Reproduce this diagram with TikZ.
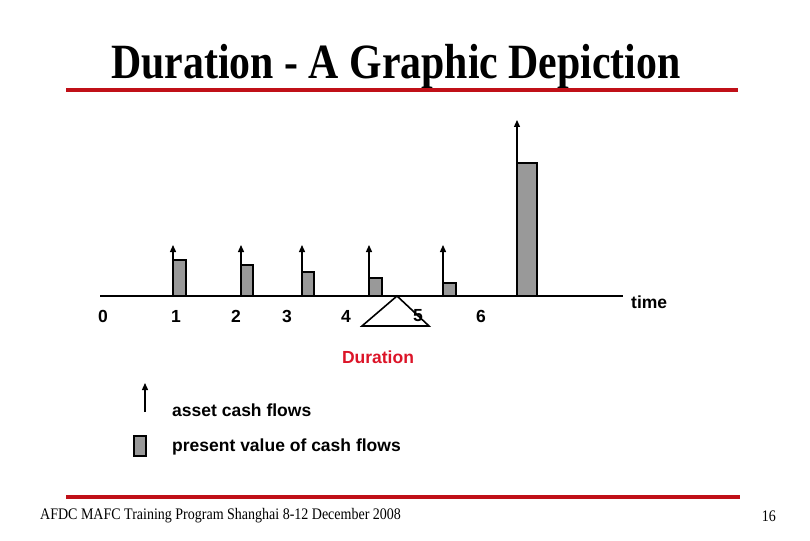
\documentclass[tikz,border=0pt]{standalone}
\usepackage{fontspec}
\setmainfont{Liberation Serif}
\newfontfamily\arial{Liberation Sans}
\definecolor{slidered}{RGB}{192,16,24}
\definecolor{durred}{RGB}{220,20,40}
\usetikzlibrary{arrows.meta}
\tikzset{
  lbl/.style={font=\arial\bfseries\fontsize{17.5}{19}\selectfont, inner sep=0pt},
  cf/.style={-{Triangle[length=7pt,width=6pt]}, line width=1.3pt},
  pv/.style={draw=black, line width=1.8pt, fill=black!40},
  rule/.style={slidered, line width=4pt},
}
\begin{document}
\begin{tikzpicture}[x=1pt,y=-1pt]
\useasboundingbox (0,0) rectangle (810,540);
% title
\node[inner sep=0pt] (title) at (396,67) {\scalebox{0.95}[1.12]{\bfseries\fontsize{44}{44}\selectfont Duration - A Graphic Depiction}};
\coordinate (tl) at (66,90); \coordinate (tr) at (738,90);
\draw[rule] (tl) -- (tr);
% axis
\coordinate (a0) at (100,296); \coordinate (a1) at (623,296);
\draw[line width=1.8pt] (a0) -- (a1);
% bars: x, width, top, arrow tip
\foreach \n/\x/\w/\t/\h in {1/173/13/260/245, 2/241/12/265/245, 3/302/12/272/245, 4/369/13/278/245, 5/443/13/283/245, 6/517/20/163/120}{
  \draw[pv] (\x,296) rectangle ++(\w,\t-296);
  \coordinate (b\n) at (\x,296);
  \coordinate (h\n) at (\x,\h);
  \draw[cf] (b\n) -- (h\n);
}
% labels
\node[lbl] (l0) at (103,316) {0};
\node[lbl] (l1) at (176,316) {1};
\node[lbl] (l2) at (236,316) {2};
\node[lbl] (l3) at (287,316) {3};
\node[lbl] (l4) at (346,316) {4};
\node[lbl] (l5) at (418,316) {5};
\node[lbl] (l6) at (481,316) {6};
\node[lbl, anchor=west] (time) at (631,302) {time};
% fulcrum
\coordinate (fa) at (397,296); \coordinate (fl) at (362,326); \coordinate (fr) at (429,326);
\draw[line width=1.6pt, line join=miter] (fa) -- (fl) -- (fr) -- cycle;
\node[lbl, text=durred] (dur) at (378,357) {Duration};
% legend
\coordinate (lg0) at (145,412); \coordinate (lg1) at (145,383);
\draw[cf] (lg0) -- (lg1);
\node[lbl, anchor=west] (t1) at (172,410) {asset cash flows};
\draw[pv] (134,436) rectangle (146,456);
\node[lbl, anchor=west] (t2) at (172,447) {present value of cash flows};
% footer
\coordinate (fl0) at (66,497); \coordinate (fl1) at (740,497);
\draw[rule] (fl0) -- (fl1);
\node[inner sep=0pt, anchor=west] (foot) at (40,516) {\scalebox{1}[1.15]{\fontsize{14}{15}\selectfont AFDC MAFC Training Program Shanghai 8-12 December 2008}};
\node[inner sep=0pt, anchor=east] (page) at (776,516) {\scalebox{1}[1.15]{\fontsize{14}{15}\selectfont 16}};
\end{tikzpicture}
\end{document}
